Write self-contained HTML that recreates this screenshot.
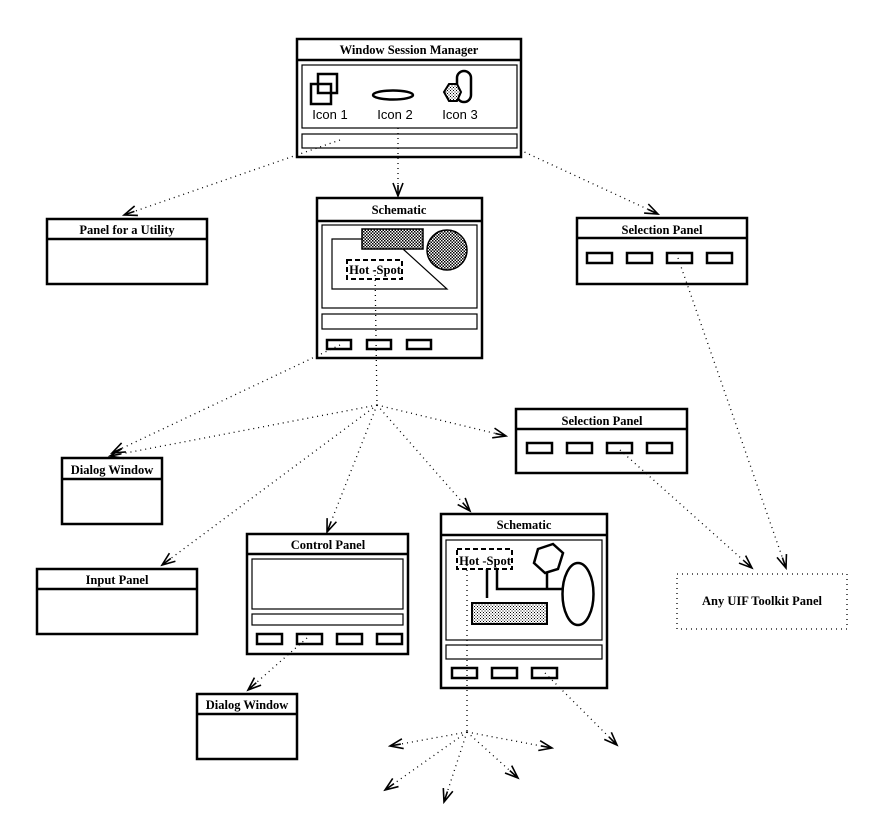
<!DOCTYPE html>
<html><head><meta charset="utf-8"><style>
html,body{margin:0;padding:0;background:#fff;}
svg{display:block;}
text{font-family:"Liberation Serif",serif;font-weight:bold;font-size:12.5px;fill:#000;}
.s{font-family:"Liberation Sans",sans-serif;font-weight:normal;font-size:13px;}
.b{fill:none;stroke:#000;stroke-width:2.5;}
.t{fill:none;stroke:#000;stroke-width:1.2;}
.d{fill:none;stroke:#000;stroke-width:1.3;stroke-dasharray:1 4;}
.h{fill:none;stroke:#000;stroke-width:2;stroke-dasharray:5 3;}
</style></head><body>
<svg width="887" height="839" viewBox="0 0 887 839" xmlns="http://www.w3.org/2000/svg">
<defs>
<pattern id="dots" width="3" height="3" patternUnits="userSpaceOnUse"><rect width="3" height="3" fill="#fff"/><rect width="1.5" height="1.5" fill="#000"/><rect x="1.5" y="1.5" width="1.5" height="1.5" fill="#000"/></pattern>
<pattern id="dots2" width="3" height="3" patternUnits="userSpaceOnUse"><rect width="3" height="3" fill="#fff"/><rect width="1" height="1" fill="#000"/><rect x="1.5" y="1.5" width="1" height="1" fill="#000"/></pattern>
<marker id="a" markerWidth="16" markerHeight="12" refX="14" refY="6" orient="auto" markerUnits="userSpaceOnUse"><path d="M1,1 L14,6 L1,11 M14,6 L3,6" fill="none" stroke="#000" stroke-width="1.6"/></marker>
</defs>

<g class="d" marker-end="url(#a)">
<line x1="398" y1="128" x2="398" y2="196"/>
<line x1="340" y1="140" x2="124" y2="215"/>
<line x1="520" y1="150" x2="658" y2="214"/>
<line x1="678" y1="258" x2="786" y2="568"/>
<line x1="620" y1="450" x2="752" y2="568"/>
<line x1="377" y1="405" x2="110" y2="456"/>
<line x1="340" y1="345" x2="112" y2="453"/>
<line x1="377" y1="405" x2="506" y2="436"/>
<line x1="377" y1="405" x2="327" y2="532"/>
<line x1="377" y1="405" x2="470" y2="511"/>
<line x1="377" y1="405" x2="162" y2="565"/>
<line x1="307" y1="638" x2="248" y2="690"/>
<line x1="545" y1="673" x2="617" y2="745"/>
<line x1="467" y1="732" x2="552" y2="748"/>
<line x1="467" y1="732" x2="518" y2="778"/>
<line x1="467" y1="732" x2="444" y2="802"/>
<line x1="467" y1="732" x2="385" y2="790"/>
<line x1="467" y1="732" x2="390" y2="746"/>
</g>
<g class="d">
<line x1="375" y1="270" x2="377" y2="405"/>
<line x1="467" y1="560" x2="467" y2="732"/>
</g>

<rect x="297" y="39" width="224" height="118" class="b" fill="#fff"/>
<line x1="297" y1="60" x2="521" y2="60" class="b"/>
<text x="409" y="54" text-anchor="middle">Window  Session Manager</text>
<rect x="302" y="65" width="215" height="63" class="t"/>
<rect x="302" y="134" width="215" height="14" class="t"/>
<rect x="311" y="84" width="20" height="20" class="b" stroke-width="2"/>
<rect x="318" y="74" width="19" height="19" class="b" stroke-width="2"/>
<ellipse cx="393" cy="95" rx="20" ry="4.5" class="b" stroke-width="2"/>
<rect x="457" y="71" width="14" height="31" rx="7" class="b" stroke-width="2"/>
<polygon points="449,84 457,84 461,92 457,101 449,101 444,92" fill="url(#dots2)" stroke="#000" stroke-width="2"/>
<text class="s" x="330" y="119" text-anchor="middle">Icon 1</text>
<text class="s" x="395" y="119" text-anchor="middle">Icon 2</text>
<text class="s" x="460" y="119" text-anchor="middle">Icon 3</text>

<rect x="47" y="219" width="160" height="65" class="b"/>
<line x1="47" y1="239" x2="207" y2="239" class="b"/>
<text x="127" y="234" text-anchor="middle">Panel for a Utility</text>

<rect x="317" y="198" width="165" height="160" class="b"/>
<line x1="317" y1="221" x2="482" y2="221" class="b"/>
<text x="399" y="214" text-anchor="middle">Schematic</text>
<rect x="322" y="225" width="155" height="83" class="t"/>
<rect x="322" y="314" width="155" height="15" class="t"/>
<polyline points="362,239 332,239 332,289 447,289 403,249" class="t"/>
<rect x="362" y="229" width="61" height="20" fill="url(#dots)" stroke="#000" stroke-width="1.5"/>
<circle cx="447" cy="250" r="20" fill="url(#dots)" stroke="#000" stroke-width="1.5"/>
<rect x="347" y="260" width="55" height="19" class="h" fill="#fff"/>
<text x="375" y="274" text-anchor="middle" font-size="11">Hot -Spot</text>
<rect x="327" y="340" width="24" height="9" class="b" stroke-width="2"/>
<rect x="367" y="340" width="24" height="9" class="b" stroke-width="2"/>
<rect x="407" y="340" width="24" height="9" class="b" stroke-width="2"/>

<rect x="577" y="218" width="170" height="66" class="b"/>
<line x1="577" y1="238" x2="747" y2="238" class="b"/>
<text x="662" y="234" text-anchor="middle">Selection Panel</text>
<rect x="587" y="253" width="25" height="10" class="b" stroke-width="2"/>
<rect x="627" y="253" width="25" height="10" class="b" stroke-width="2"/>
<rect x="667" y="253" width="25" height="10" class="b" stroke-width="2"/>
<rect x="707" y="253" width="25" height="10" class="b" stroke-width="2"/>

<rect x="516" y="409" width="171" height="64" class="b"/>
<line x1="516" y1="429" x2="687" y2="429" class="b"/>
<text x="602" y="425" text-anchor="middle">Selection Panel</text>
<rect x="527" y="443" width="25" height="10" class="b" stroke-width="2"/>
<rect x="567" y="443" width="25" height="10" class="b" stroke-width="2"/>
<rect x="607" y="443" width="25" height="10" class="b" stroke-width="2"/>
<rect x="647" y="443" width="25" height="10" class="b" stroke-width="2"/>

<rect x="62" y="458" width="100" height="66" class="b"/>
<line x1="62" y1="479" x2="162" y2="479" class="b"/>
<text x="112" y="474" text-anchor="middle">Dialog Window</text>

<rect x="37" y="569" width="160" height="65" class="b"/>
<line x1="37" y1="589" x2="197" y2="589" class="b"/>
<text x="117" y="584" text-anchor="middle">Input Panel</text>

<rect x="247" y="534" width="161" height="120" class="b"/>
<line x1="247" y1="554" x2="408" y2="554" class="b"/>
<text x="328" y="549" text-anchor="middle">Control Panel</text>
<rect x="252" y="559" width="151" height="50" class="t"/>
<rect x="252" y="614" width="151" height="11" class="t"/>
<rect x="257" y="634" width="25" height="10" class="b" stroke-width="2"/>
<rect x="297" y="634" width="25" height="10" class="b" stroke-width="2"/>
<rect x="337" y="634" width="25" height="10" class="b" stroke-width="2"/>
<rect x="377" y="634" width="25" height="10" class="b" stroke-width="2"/>

<rect x="441" y="514" width="166" height="174" class="b"/>
<line x1="441" y1="535" x2="607" y2="535" class="b"/>
<text x="524" y="529" text-anchor="middle">Schematic</text>
<rect x="446" y="540" width="156" height="100" class="t"/>
<rect x="446" y="645" width="156" height="14" class="t"/>
<rect x="457" y="549" width="55" height="20" class="h"/>
<text x="485" y="565" text-anchor="middle" font-size="11">Hot -Spot</text>
<polygon points="538,549 553,544 563,553 558,569 545,573 534,563" class="b" stroke-width="2"/>
<ellipse cx="578" cy="594" rx="15.5" ry="31" class="b" stroke-width="2"/>
<polyline points="497,569 497,589 563,589" class="b" stroke-width="2"/>
<line x1="547" y1="573" x2="547" y2="589" class="b" stroke-width="2"/>
<line x1="487" y1="569" x2="487" y2="598" class="b" stroke-width="2"/>
<rect x="472" y="603" width="75" height="21" fill="url(#dots2)" stroke="#000" stroke-width="2"/>
<rect x="452" y="668" width="25" height="10" class="b" stroke-width="2"/>
<rect x="492" y="668" width="25" height="10" class="b" stroke-width="2"/>
<rect x="532" y="668" width="25" height="10" class="b" stroke-width="2"/>

<rect x="197" y="694" width="100" height="65" class="b"/>
<line x1="197" y1="714" x2="297" y2="714" class="b"/>
<text x="247" y="709" text-anchor="middle">Dialog Window</text>

<rect x="677" y="574" width="170" height="55" class="d"/>
<text x="762" y="605" text-anchor="middle">Any UIF Toolkit Panel</text>
</svg>
</body></html>
